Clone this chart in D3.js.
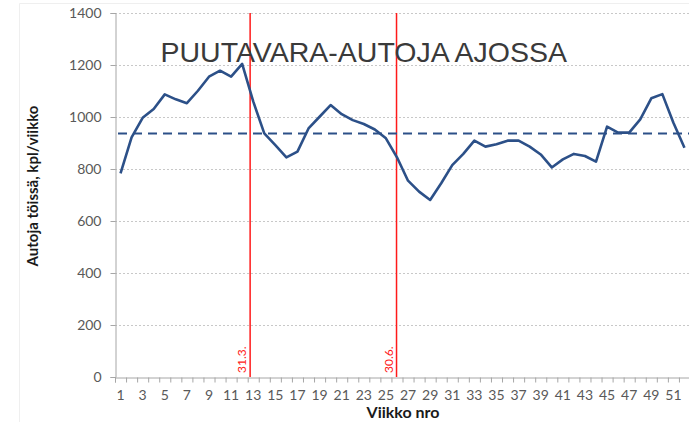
<!DOCTYPE html>
<html><head><meta charset="utf-8">
<script src="https://cdn.jsdelivr.net/npm/d3@7"></script>
<style>body{margin:0;background:#fff}svg{display:block}</style>
</head><body>
<svg id="c" width="689" height="422"></svg>
<script>
const weeks = d3.range(1, 53);
const values = [783, 922, 997, 1031, 1087, 1068, 1053, 1101, 1155, 1178, 1155, 1204, 1060,
  937, 892, 845, 867, 956, 1001, 1046, 1011, 988, 973, 952, 918, 845,
  755, 713, 681, 745, 815, 858, 909, 886, 895, 909, 909, 886, 856, 806,
  837, 858, 850, 828, 963, 940, 940, 991, 1072, 1088, 978, 882];
const meanValue = 937;
const yTicks = [0, 200, 400, 600, 800, 1000, 1200, 1400];
const markers = [{pos: 12.72, label: "31.3."}, {pos: 25.96, label: "30.6."}];
const title = "PUUTAVARA-AUTOJA AJOSSA";
const yTitle = "Autoja töissä, kpl/viikko";
const xTitle = "Viikko nro";

const svg = d3.select("#c");
const x = d3.scaleLinear().domain([0.5, 52.5]).range([115, 690]);
const y = d3.scaleLinear().domain([0, 1400]).range([377, 13]);
const blue = "#2c5088";

// faint chart border
svg.append("path").attr("d", "M19.5,422 V3.5 H689").attr("fill", "none").attr("stroke", "#efefef");

// gridlines
svg.append("g").selectAll("line").data(yTicks.filter(d => d > 0)).join("line")
  .attr("x1", x(0.5)).attr("x2", 689).attr("y1", d => Math.round(y(d)) + 0.5).attr("y2", d => Math.round(y(d)) + 0.5)
  .attr("stroke", "#c8c8c8").attr("stroke-width", 1).attr("stroke-dasharray", "2,2");

// y axis
const yAxis = svg.append("g").attr("transform", `translate(${x(0.5) + 0.5},0)`)
  .call(d3.axisLeft(y).tickValues(yTicks).tickSize(5).tickFormat(d3.format("d")));
yAxis.select(".domain").attr("stroke", "#a6a6a6");
yAxis.selectAll(".tick line").attr("stroke", "#a6a6a6");
yAxis.selectAll("text").attr("font-family", "Lato, sans-serif").attr("font-size", 14).attr("fill", "#595959").attr("x", -14);

// x axis
const xAxis = svg.append("g").attr("transform", `translate(0,${y(0) + 0.5})`)
  .call(d3.axisBottom(x).tickValues(d3.range(0.5, 53, 1)).tickSize(5).tickFormat(""));
xAxis.select(".domain").attr("stroke", "#a6a6a6");
xAxis.selectAll(".tick line").attr("stroke", "#a6a6a6");
svg.append("g").selectAll("text").data(weeks.filter(w => w % 2 === 1)).join("text")
  .attr("x", d => x(d)).attr("y", 400).attr("text-anchor", "middle")
  .attr("font-family", "Lato, sans-serif").attr("font-size", 14).attr("fill", "#595959").text(d => d);

// red marker lines
markers.forEach(m => {
  svg.append("line").attr("x1", x(m.pos)).attr("x2", x(m.pos)).attr("y1", y(1400)).attr("y2", y(0))
    .attr("stroke", "#ff1a1a").attr("stroke-width", 1.5);
  svg.append("text").attr("transform", `translate(${x(m.pos) - 4},${y(0) - 4}) rotate(-90)`)
    .attr("font-family", "Lato, sans-serif").attr("font-size", 12).attr("fill", "#ff2020").text(m.label);
});

// mean dashed
svg.append("line").attr("x1", x(0.5) + 3).attr("x2", 689).attr("y1", y(meanValue)).attr("y2", y(meanValue))
  .attr("stroke", blue).attr("stroke-width", 2).attr("stroke-dasharray", "9,6");

// series line
svg.append("path").datum(values).attr("fill", "none").attr("stroke", blue).attr("stroke-width", 2.6)
  .attr("stroke-linejoin", "round")
  .attr("d", d3.line().x((d, i) => x(weeks[i])).y(d => y(d)));

// title
svg.append("text").attr("x", 160.5).attr("y", 61.5).attr("font-family", "'Liberation Sans', Arial, sans-serif")
  .attr("font-size", 28.5).attr("fill", "#3a3a3a").text(title);

// axis titles
svg.append("text").attr("transform", "translate(38,186) rotate(-90)").attr("text-anchor", "middle")
  .attr("font-family", "Lato, sans-serif").attr("font-weight", "bold").attr("font-size", 15).attr("fill", "#1a1a1a").text(yTitle);
svg.append("text").attr("x", 403).attr("y", 418).attr("text-anchor", "middle")
  .attr("font-family", "Lato, sans-serif").attr("font-weight", "bold").attr("font-size", 16).attr("fill", "#1a1a1a").text(xTitle);
</script>
</body></html>
